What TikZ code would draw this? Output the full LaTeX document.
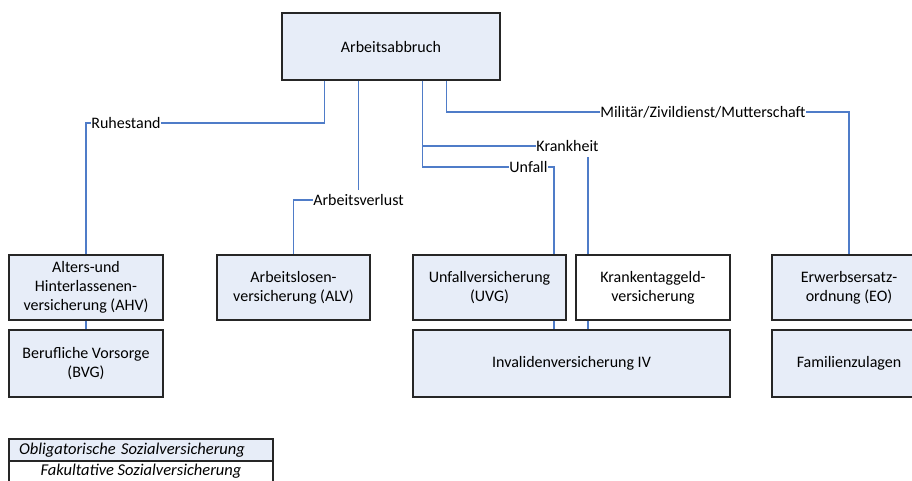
\documentclass[tikz,border=0pt]{standalone}
\usepackage{fontspec}
\setmainfont{Carlito}
\usetikzlibrary{positioning,calc}
\definecolor{boxblue}{HTML}{E7EDF8}
\definecolor{linkblue}{HTML}{4F7CC8}

\begin{document}
\begin{tikzpicture}[x=1pt, y=-1pt,
    font=\fontsize{16}{19}\selectfont,
    box/.style = {draw=black!85, line width=1.1pt, fill=boxblue, align=center, inner sep=0pt},
    optbox/.style = {box, fill=white},
    cause/.style = {inner sep=0.5pt, text height=10.3pt, text depth=0pt},
    legend/.style = {box, minimum width=264pt, minimum height=22pt,
                     font=\fontsize{16.5}{19}\selectfont\itshape},
    link/.style = {draw=linkblue, line width=1.1pt}]
  \useasboundingbox (0,0) rectangle (912,480);
  % top
  \node[box, minimum width=218pt, minimum height=67pt] (abbruch) at (391,46.5) {Arbeitsabbruch};
  % insurances
  \node[box, minimum width=154pt, minimum height=65pt] (ahv) at (86,287.5) {Alters-und\\Hinterlassenen-\\versicherung (AHV)};
  \node[box, minimum width=153pt, minimum height=65pt] (alv) at (293.5,287.5) {Arbeitslosen-\\versicherung (ALV)};
  \node[box, minimum width=153pt, minimum height=65pt] (uvg) at (489.5,287.5) {Unfallversicherung\\(UVG)};
  \node[optbox, minimum width=154pt, minimum height=65pt] (ktg) at (653,287.5) {Krankentaggeld-\\versicherung};
  \node[box, minimum width=154pt, minimum height=65pt] (eo) at (849,287.5) {Erwerbsersatz-\\ordnung (EO)};
  \node[box, minimum width=154pt, minimum height=67pt] (bvg) at (86,363.5) {Berufliche Vorsorge\\(BVG)};
  \node[box, minimum width=317pt, minimum height=67pt] (iv) at (571.5,363.5) {Invalidenversicherung IV};
  \node[box, minimum width=154pt, minimum height=67pt] (fam) at (849,363.5) {Familienzulagen};
  % causes
  \node[cause] (ruhe) at (126,123) {Ruhestand};
  \node[cause] (verlust) at (358.5,200) {Arbeitsverlust};
  \node[cause] (krank) at (567.5,146) {Krankheit};
  \node[cause] (unfall) at (528.5,167) {Unfall};
  \node[cause] (mil) at (703,112) {Militär/Zivildienst/Mutterschaft};
  %
  \coordinate (rTop) at ($(abbruch.south west)+(43,0)$);
  \coordinate (kTop) at ($(abbruch.south west)+(141,0)$);
  \coordinate (mTop) at ($(abbruch.south west)+(165,0)$);
  \coordinate (ux) at (554,0);
  \coordinate (kx) at (588,0);
  %
  \draw[link] (rTop) |- (ruhe.east);
  \draw[link] (ruhe.west) -| (ahv.north);
  \draw[link] (abbruch.south -| verlust) -- ([yshift=4pt]verlust.north);
  \draw[link] (verlust.west) -| (alv.north);
  \draw[link] (kTop) |- (krank.west);
  \draw[link] (kTop) |- (unfall.west);
  \draw[link] (unfall.east) -| (uvg.north -| ux);
  \draw[link] ([yshift=-5pt]krank.south -| kx) -- (ktg.north -| kx);
  \draw[link] (mTop) |- (mil.west);
  \draw[link] (mil.east) -| (eo.north);
  \draw[link] (ahv.south) -- (bvg.north);
  \draw[link] (uvg.south -| ux) -- (iv.north -| ux);
  \draw[link] (ktg.south -| kx) -- (iv.north -| kx);
  % legend
  \node[legend, text width=244pt, inner xsep=10pt, align=left] (oblig) at (141,450) {Obligatorische Sozialversicherung};
  \node[legend, fill=white, minimum height=21pt] (fakult) at (141,471.5) {Fakultative Sozialversicherung};
\end{tikzpicture}
\end{document}
